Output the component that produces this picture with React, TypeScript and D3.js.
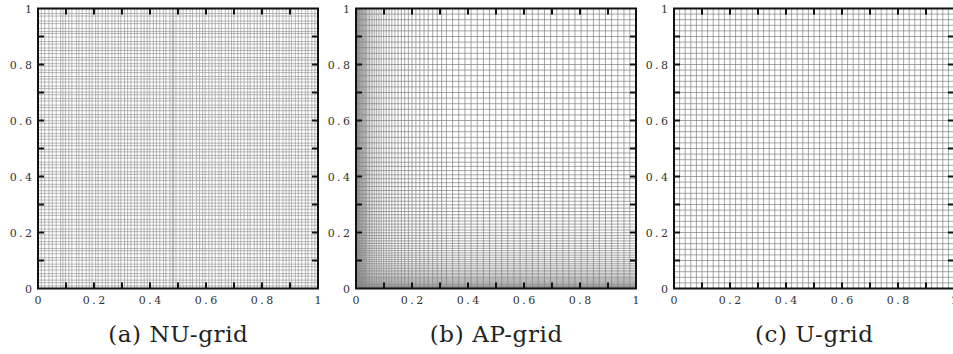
import React, { useEffect, useRef } from 'react'
import * as d3 from 'd3'

const W = 953
const H = 354

// grid line positions (x / y in the unit square)
const nuX = [
  0, 0.012, 0.024, 0.039, 0.051, 0.065, 0.081, 0.089,
  0.098, 0.110, 0.121, 0.137, 0.146, 0.158, 0.172, 0.183, 0.193,
  0.206, 0.215, 0.229, 0.241, 0.250, 0.264, 0.275, 0.287, 0.296,
  0.309, 0.320, 0.332, 0.345, 0.354, 0.368, 0.379, 0.390, 0.399,
  0.412, 0.423, 0.435, 0.448, 0.457, 0.471, 0.480, 0.484, 0.493,
  0.507, 0.518, 0.530, 0.543, 0.552, 0.566, 0.577, 0.588, 0.597,
  0.610, 0.621, 0.633, 0.646, 0.655, 0.669, 0.680, 0.691, 0.700,
  0.713, 0.724, 0.736, 0.749, 0.758, 0.772, 0.783, 0.794, 0.803,
  0.816, 0.827, 0.839, 0.852, 0.861, 0.875, 0.886, 0.897, 0.906,
  0.919, 0.930, 0.942, 0.955, 0.964, 0.978, 0.989, 1
]
const nuY = [
  0, 0.009, 0.021, 0.030, 0.044, 0.053, 0.066, 0.078, 0.087,
  0.101, 0.110, 0.124, 0.135, 0.143, 0.158, 0.167, 0.180, 0.191,
  0.203, 0.212, 0.226, 0.237, 0.246, 0.261, 0.270, 0.283, 0.294,
  0.305, 0.316, 0.327, 0.340, 0.349, 0.363, 0.372, 0.386, 0.395,
  0.408, 0.417, 0.431, 0.442, 0.451, 0.466, 0.475, 0.488, 0.497,
  0.510, 0.519, 0.533, 0.544, 0.553, 0.567, 0.576, 0.590, 0.599,
  0.612, 0.621, 0.635, 0.646, 0.655, 0.670, 0.679, 0.692, 0.701,
  0.714, 0.723, 0.737, 0.748, 0.757, 0.771, 0.780, 0.794, 0.803,
  0.816, 0.825, 0.839, 0.850, 0.859, 0.873, 0.882, 0.898, 0.911,
  0.918, 0.929, 0.946, 0.955, 0.973, 0.982, 1
]
const apX = [
  0, 0.0015, 0.003, 0.0045, 0.006, 0.008, 0.010, 0.012, 0.0145, 0.017,
  0.020, 0.023, 0.0265, 0.030, 0.034, 0.038, 0.043, 0.048, 0.054, 0.060,
  0.067, 0.074, 0.082, 0.090, 0.099, 0.108, 0.118, 0.128, 0.139, 0.150,
  0.162, 0.174, 0.187, 0.200, 0.214, 0.228, 0.243, 0.258, 0.274, 0.290,
  0.306, 0.323, 0.345, 0.367, 0.389, 0.411, 0.433, 0.455, 0.477, 0.499,
  0.520, 0.542, 0.564, 0.586, 0.608, 0.630, 0.651, 0.673, 0.695, 0.717,
  0.739, 0.760, 0.782, 0.804, 0.826, 0.848, 0.869, 0.891, 0.913, 0.935,
  0.957, 0.978, 1
]
const apY = [
  0, 0.0015, 0.003, 0.005, 0.007, 0.009, 0.0115, 0.014, 0.017, 0.020,
  0.0235, 0.027, 0.031, 0.035, 0.0395, 0.044, 0.049, 0.054, 0.0595, 0.065,
  0.071, 0.077, 0.0835, 0.090, 0.097, 0.104, 0.1115, 0.119, 0.127, 0.135,
  0.1435, 0.152, 0.161, 0.170, 0.1795, 0.189, 0.199, 0.209, 0.2195, 0.230,
  0.241, 0.252, 0.2635, 0.275, 0.287, 0.299, 0.3115, 0.324, 0.337, 0.350,
  0.364, 0.378, 0.392, 0.406, 0.421, 0.436, 0.451, 0.467, 0.484, 0.501,
  0.520, 0.540, 0.560, 0.580, 0.600, 0.620, 0.640, 0.660, 0.680, 0.700,
  0.720, 0.740, 0.760, 0.780, 0.800, 0.820, 0.840, 0.860, 0.880, 0.900,
  0.920, 0.940, 0.960, 0.980, 1
]
const uX = [
  0, 0.02, 0.04, 0.06, 0.08, 0.1, 0.12, 0.14, 0.16, 0.18,
  0.2, 0.22, 0.24, 0.26, 0.28, 0.3, 0.32, 0.34, 0.36, 0.38,
  0.4, 0.42, 0.44, 0.46, 0.48, 0.5, 0.52, 0.54, 0.56, 0.58,
  0.6, 0.62, 0.64, 0.66, 0.68, 0.7, 0.72, 0.74, 0.76, 0.78,
  0.8, 0.82, 0.84, 0.86, 0.88, 0.9, 0.92, 0.94, 0.96, 0.98, 1
]
const uY = uX

const majorTicks = [0.1, 0.2, 0.3, 0.4, 0.5, 0.6, 0.7, 0.8, 0.9]
const tickLabels = [0, 0.2, 0.4, 0.6, 0.8, 1]
const captions = ['(a) NU-grid', '(b) AP-grid', '(c) U-grid']

const panels = [
  { caption: captions[0], gx: nuX, gy: nuY, grey: '#9a9a9a' },
  { caption: captions[1], gx: apX, gy: apY, grey: '#808080' },
  { caption: captions[2], gx: uX, gy: uY, grey: '#808080' }
]

const serif = '"DejaVu Serif", serif'

export default function App() {
  const ref = useRef<SVGSVGElement>(null)

  useEffect(() => {
    const svg = d3.select(ref.current)
    svg.selectAll('*').remove()

    const size = 280
    const top = 8.5
    const tickLen = 6
    const spacing = 2.4

    panels.forEach((p, i) => {
      const left = 38 + i * 318
      const x = d3.scaleLinear().domain([0, 1]).range([0, size])
      const y = d3.scaleLinear().domain([0, 1]).range([size, 0])

      const g = svg.append('g').attr('transform', `translate(${left},${top})`)

      // grid
      g.append('g')
        .selectAll('line')
        .data(p.gx)
        .enter()
        .append('line')
        .attr('x1', d => x(d)).attr('x2', d => x(d))
        .attr('y1', 0).attr('y2', size)
        .attr('stroke', p.grey)
        .attr('stroke-width', 0.7)

      g.append('g')
        .selectAll('line')
        .data(p.gy)
        .enter()
        .append('line')
        .attr('y1', d => y(d)).attr('y2', d => y(d))
        .attr('x1', 0).attr('x2', size)
        .attr('stroke', p.grey)
        .attr('stroke-width', 0.7)

      // frame
      g.append('rect')
        .attr('width', size).attr('height', size)
        .attr('fill', 'none')
        .attr('stroke', '#111')
        .attr('stroke-width', 2)

      // major ticks on all four sides, pointing inward
      const ticks = g.append('g').attr('stroke', '#111').attr('stroke-width', 2)
      majorTicks.forEach(t => {
        ticks.append('line').attr('x1', x(t)).attr('x2', x(t)).attr('y1', size).attr('y2', size - tickLen)
        ticks.append('line').attr('x1', x(t)).attr('x2', x(t)).attr('y1', 0).attr('y2', tickLen)
        ticks.append('line').attr('y1', y(t)).attr('y2', y(t)).attr('x1', 0).attr('x2', tickLen)
        ticks.append('line').attr('y1', y(t)).attr('y2', y(t)).attr('x1', size).attr('x2', size - tickLen)
      })

      const labelStyle = (s: any) => s
        .attr('font-family', serif)
        .attr('font-size', 11)
        .attr('letter-spacing', spacing)
        .attr('fill', '#333')

      g.append('g')
        .selectAll('text')
        .data(tickLabels)
        .enter()
        .append('text')
        .call(labelStyle)
        .attr('x', d => x(d) + spacing / 2)
        .attr('y', size + 15)
        .attr('text-anchor', 'middle')
        .text(d => String(d))

      g.append('g')
        .selectAll('text')
        .data(tickLabels)
        .enter()
        .append('text')
        .call(labelStyle)
        .attr('x', -6 + spacing)
        .attr('y', d => y(d) + 4)
        .attr('text-anchor', 'end')
        .text(d => String(d))

      g.append('text')
        .attr('x', size / 2 + 0.3)
        .attr('y', size + 53)
        .attr('text-anchor', 'middle')
        .attr('font-family', serif)
        .attr('font-size', 23)
        .attr('letter-spacing', 0.6)
        .attr('fill', '#222')
        .text(p.caption)
    })
  }, [])

  return (
    <svg
      ref={ref}
      width={W}
      height={H}
      style={{ position: 'absolute', left: 0, top: 0, background: '#fff' }}
    />
  )
}
